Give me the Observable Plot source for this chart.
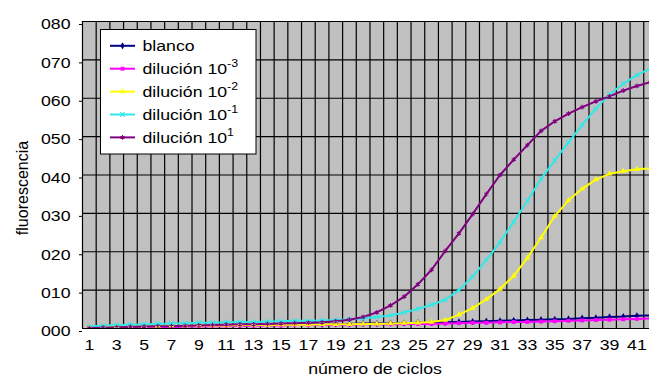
<!DOCTYPE html>
<html>
<head>
<meta charset="utf-8">
<script src="https://cdn.jsdelivr.net/npm/d3@7"></script>
<script src="https://cdn.jsdelivr.net/npm/@observablehq/plot@0.6"></script>
<style>
  html, body { margin: 0; padding: 0; background: #fff; overflow: hidden; }
  #chart { position: relative; width: 649px; height: 378px; }
  #chart svg { display: block; }
</style>
</head>
<body>
<div id="chart"></div>
<script>
// Real-time PCR amplification curves: fluorescence per cycle for each dilution.
const cycles = d3.range(1, 43);

const blanco = [0.3, 0.3, 0.4, 0.4, 0.5, 0.5, 0.6, 0.6, 0.7, 0.7, 0.8, 0.8, 0.9, 0.9, 1.0, 1.0, 1.1, 1.1, 1.2, 1.2, 1.3,
                1.3, 1.4, 1.4, 1.5, 1.5, 1.6, 1.7, 1.8, 1.9, 2.0, 2.1, 2.2, 2.3, 2.4, 2.5, 2.7, 2.8, 3.0, 3.1, 3.3, 3.4];
const dil1e3 = [0.1, 0.2, 0.2, 0.3, 0.3, 0.4, 0.4, 0.5, 0.5, 0.6, 0.6, 0.7, 0.7, 0.8, 0.8, 0.9, 0.9, 1.0, 1.0, 1.0, 1.1,
                1.1, 1.1, 1.2, 1.2, 1.2, 1.3, 1.4, 1.5, 1.5, 1.6, 1.7, 1.7, 1.8, 1.9, 2.0, 2.1, 2.2, 2.3, 2.4, 2.5, 2.6];
const dil1e2 = [0.4, 0.4, 0.5, 0.5, 0.6, 0.6, 0.7, 0.7, 0.8, 0.8, 0.8, 0.9, 0.9, 0.9, 1.0, 1.0, 1.0, 1.1, 1.1, 1.1, 1.2,
                1.2, 1.3, 1.4, 1.5, 1.7, 2.2, 3.6, 5.3, 7.6, 10.3, 13.7, 18.4, 23.7, 29.3, 33.4, 36.4, 38.8, 40.3, 41.0, 41.5, 41.7];
const dil1e1 = [0.5, 0.7, 0.9, 1.0, 1.1, 1.2, 1.3, 1.4, 1.5, 1.5, 1.6, 1.7, 1.7, 1.8, 1.9, 2.0, 2.0, 2.1, 2.2, 2.4, 2.6,
                3.0, 3.4, 4.2, 5.1, 6.2, 7.5, 10.0, 13.5, 17.8, 22.5, 27.8, 33.3, 39.0, 43.8, 48.5, 53.0, 57.3, 61.0, 63.8, 66.0, 67.8];
const dil10 = [0.1, 0.2, 0.3, 0.4, 0.5, 0.6, 0.6, 0.7, 0.8, 0.9, 1.0, 1.1, 1.1, 1.2, 1.3, 1.4, 1.5, 1.6, 1.9, 2.3, 3.0,
               4.2, 6.0, 8.3, 11.5, 15.3, 20.2, 24.8, 29.8, 35.0, 40.0, 44.0, 47.8, 51.5, 54.0, 56.0, 57.7, 59.2, 60.5, 62.0, 63.2, 64.2];

const seriesKeys = ["blanco", "dil-3", "dil-2", "dil-1", "dil1"];
const seriesValues = [blanco, dil1e3, dil1e2, dil1e1, dil10];
const legendText = ["blanco", "dilución 10", "dilución 10", "dilución 10", "dilución 10"];
const legendExp = ["", "-3", "-2", "-1", "1"];
const seriesColors = ["#000080", "#ff00ff", "#ffff00", "#30e8e8", "#800080"];
const seriesSymbols = ["diamond", "square", "triangle", "times", "asterisk"];

const xTicks = d3.range(1, 42, 2);
const yTicks = d3.range(0, 81, 10);
const xGrid = d3.range(0.5, 42, 1);

// tidy table built from the arrays above
const rows = seriesKeys.flatMap((key, i) =>
  cycles.map((c, j) => ({ series: key, cycle: c, value: seriesValues[i][j] })));

const W = 649, H = 378;
const markerR = 2.2;
const colorScale = { domain: seriesKeys, range: seriesColors };
const symbolScale = { domain: seriesKeys, range: seriesSymbols };

const isStroked = s => s === "times" || s === "asterisk";
const filledKeys = seriesKeys.filter((k, i) => !isStroked(seriesSymbols[i]));
const strokedKeys = seriesKeys.filter((k, i) => isStroked(seriesSymbols[i]));

const chart = Plot.plot({
  width: W,
  height: H,
  marginLeft: 82,
  marginRight: 0,
  marginTop: 21,
  marginBottom: 50,
  style: { fontFamily: "'Liberation Sans', Arial, sans-serif", fontSize: "15px", color: "#000", background: "#fff", overflow: "visible" },
  x: { type: "linear", domain: [0.5, 41.92] },
  y: { domain: [0, 80] },
  color: colorScale,
  symbol: symbolScale,
  marks: [
    Plot.frame({ fill: "#c0c0c0", stroke: "none" }),
    Plot.ruleX(xGrid, { stroke: "#000", strokeWidth: 1.2 }),
    Plot.ruleY(yTicks, { stroke: "#000", strokeWidth: 1.2 }),
    Plot.axisY({ ticks: yTicks, tickFormat: d3.format("03d"), tickSize: 3, tickPadding: 9, dy: 3, label: null }),
    Plot.axisX({ ticks: xTicks, tickFormat: d => String(d), tickSize: 0, tickPadding: 11, label: null }),
    Plot.line(rows, { x: "cycle", y: "value", z: "series", stroke: "series", strokeWidth: 2, clip: true }),
    Plot.dot(rows.filter(d => filledKeys.includes(d.series)), {
      x: "cycle", y: "value", symbol: "series", fill: "series", stroke: "none", r: markerR, clip: true
    }),
    Plot.dot(rows.filter(d => strokedKeys.includes(d.series)), {
      x: "cycle", y: "value", symbol: "series", stroke: "series", fill: "none", strokeWidth: 1.1, r: markerR, clip: true
    })
  ]
});

document.getElementById("chart").append(chart);
const svg = d3.select(chart);

// axis titles
svg.append("text")
  .attr("class", "wide")
  .attr("x", 375).attr("y", 374)
  .attr("text-anchor", "middle")
  .attr("font-size", 15)
  .text("número de ciclos");

svg.append("text")
  .attr("transform", "translate(27.5,188) rotate(-90)")
  .attr("text-anchor", "middle")
  .attr("font-size", 16)
  .text("fluorescencia");

// legend box
const lg = svg.append("g").attr("class", "legend").attr("text-anchor", "start");
lg.append("rect")
  .attr("x", 100.5).attr("y", 29.5)
  .attr("width", 155.5).attr("height", 124.5)
  .attr("fill", "#fff").attr("stroke", "#000").attr("stroke-width", 1);

const symbolTypes = {
  diamond: d3.symbolDiamond, square: d3.symbolSquare, triangle: d3.symbolTriangle,
  times: d3.symbolTimes, asterisk: d3.symbolAsterisk
};

seriesKeys.forEach((key, i) => {
  const cy = 45.8 + i * 22.9;
  const entry = lg.append("g");
  entry.append("line")
    .attr("x1", 110).attr("x2", 135).attr("y1", cy).attr("y2", cy)
    .attr("stroke", seriesColors[i]).attr("stroke-width", 2);
  const sym = seriesSymbols[i];
  entry.append("path")
    .attr("transform", `translate(122.5,${cy})`)
    .attr("d", d3.symbol(symbolTypes[sym], Math.PI * markerR * markerR)())
    .attr("fill", isStroked(sym) ? "none" : seriesColors[i])
    .attr("stroke", isStroked(sym) ? seriesColors[i] : "none")
    .attr("stroke-width", 1.1);
  const t = entry.append("text")
    .attr("class", "wide")
    .attr("text-anchor", "start")
    .attr("x", 142.5).attr("y", cy + 5.2)
    .attr("font-size", 15)
    .text(legendText[i]);
  if (legendExp[i]) {
    t.append("tspan").attr("font-size", 10.5).attr("dy", -6.5).text(legendExp[i]);
  }
});

// the type in this chart is set slightly wide: scale horizontal labels about their anchor point
function widen(nodes, k) {
  nodes.each(function () {
    const xa = this.getAttribute("x");
    const numeric = xa != null && /^-?[\d.]+$/.test(xa);
    const x = numeric ? +xa : 0;
    const t = this.getAttribute("transform") || "";
    this.setAttribute("transform", `${t} translate(${x},0) scale(${k},1)`);
    if (numeric) this.setAttribute("x", 0);
  });
}
widen(svg.selectAll("g[aria-label$='tick label'] text"), 1.18);
widen(svg.selectAll("text.wide"), 1.18);
</script>
</body>
</html>
